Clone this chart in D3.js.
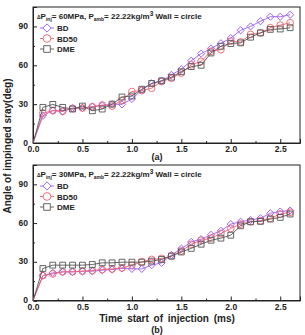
<!DOCTYPE html>
<html>
<head>
<meta charset="utf-8">
<script src="https://cdn.jsdelivr.net/npm/d3@7"></script>
<style>
body { margin: 0; background: #fff; }
text { font-family: "Liberation Sans", Arial, sans-serif; font-weight: bold; }
</style>
</head>
<body>
<div id="chart"></div>
<script>
// data
var times = [0, 0.1, 0.2, 0.3, 0.4, 0.5, 0.6, 0.7, 0.8, 0.9, 1.0, 1.1, 1.2, 1.3,
    1.4, 1.5, 1.6, 1.7, 1.8, 1.9, 2.0, 2.1, 2.2, 2.3, 2.4, 2.5, 2.6];

var bdA   = [0, 21, 25, 24.5, 27, 27, 28, 29, 30, 29.8, 34, 41, 46, 48, 52.6, 57,
    63.5, 69, 73, 77, 81, 87, 90, 94, 97.5, 97.5, 99];
var bd50A = [0, 23, 25, 24.5, 26.7, 27, 28, 29.3, 28.5, 33, 39.7, 40.5, 42.3, 47.5,
    50, 54, 60.4, 63, 70.8, 72, 78.6, 78, 83.8, 85, 89, 91, 92.8];
var dmeA  = [0, 27.5, 29.8, 27.5, 26.2, 28.5, 24.9, 26.2, 30, 35.5, 36.3, 41.5, 46,
    48, 50.8, 55, 59, 60, 69.5, 74.7, 76.8, 77.3, 81.7, 85, 87.7, 88, 89];

var bdB   = [0, 19.3, 21.4, 22.2, 22.2, 22.7, 22.7, 23.5, 24, 24.8, 24.5, 24.5, 27.4,
    29.2, 35.2, 40.2, 45.4, 47.5, 50.9, 54, 59.2, 61, 62.4, 63.7, 67.6, 68.9, 69.7];
var bd50B = [0, 19.3, 20.6, 22.2, 22.2, 22.7, 23.2, 24, 24.5, 25.3, 27.4, 30, 31.8,
    32.6, 34.4, 38.4, 43.6, 46.7, 48.3, 51.9, 55.8, 59.2, 61, 61.8, 63.7, 67, 68.4];
var dmeB  = [0, 24.8, 27.4, 27.4, 27.4, 27.4, 27.9, 29.2, 29.2, 29.7, 29.7, 29.7, 30.5,
    31.8, 34.4, 37.6, 40.4, 43.6, 46.7, 48.3, 50.6, 57.9, 61, 61.3, 63.1, 64.4, 67];

var seriesNames = ["BD", "BD50", "DME"];
var xTicks = [0, 0.5, 1.0, 1.5, 2.0, 2.5];
var yTicks = [0, 30, 60, 90];

var colors = {"BD": "#9a5cf0", "BD50": "#f0606e", "DME": "#555555"};
var sizes = {"BD": 26, "BD50": 36, "DME": 34};
// diamond = square turned 45 degrees (d3's own diamond is too tall)
var turn = {"BD": 45, "BD50": 0, "DME": 0};
var shapes = {"BD": d3.symbolSquare, "BD50": d3.symbolCircle, "DME": d3.symbolSquare};

var width = 305, height = 335;
var svg = d3.select("#chart").append("svg")
    .attr("width", width)
    .attr("height", height);

var x = d3.scaleLinear().domain([0, 2.7]).range([33, 300]);

function marker(sel, name, cx, cy, scale){
    sel.attr("transform", "translate(" + cx + "," + cy + ") rotate(" + turn[name] + ")")
        .attr("d", d3.symbol().type(shapes[name]).size(sizes[name] * scale))
        .attr("stroke", colors[name])
        .attr("stroke-width", 0.9);
}

function drawPanel(top, bottom, data, pinj, label){
    var y = d3.scaleLinear().domain([0, 105]).range([bottom, top]);
    var g = svg.append("g");

    // frame
    g.append("rect")
        .attr("x", x.range()[0]).attr("y", top)
        .attr("width", x.range()[1] - x.range()[0])
        .attr("height", bottom - top)
        .attr("fill", "none").attr("stroke", "#222").attr("stroke-width", 1);

    // x axis, ticks pointing in
    var xAxis = d3.axisBottom(x).tickValues(xTicks).tickSize(-4)
        .tickFormat(d3.format(".1f")).tickPadding(3);
    g.append("g").attr("transform", "translate(0," + bottom + ")").call(xAxis);
    var xMinor = d3.axisBottom(x).tickValues([0.25, 0.75, 1.25, 1.75, 2.25])
        .tickSize(-2).tickFormat("");
    g.append("g").attr("transform", "translate(0," + bottom + ")").call(xMinor)
        .select(".domain").remove();

    var yAxis = d3.axisLeft(y).tickValues(yTicks).tickSize(-4).tickPadding(5);
    var gy = g.append("g").attr("transform", "translate(" + x.range()[0] + ",0)").call(yAxis);
    gy.selectAll(".tick text").attr("dy", "0.25em");
    var yMinor = d3.axisLeft(y).tickValues([15, 45, 75, 105]).tickSize(-2).tickFormat("");
    g.append("g").attr("transform", "translate(" + x.range()[0] + ",0)").call(yMinor)
        .select(".domain").remove();

    g.selectAll(".tick text").attr("font-size", 8.5).attr("fill", "#222")
        .style("font-weight", "bold");
    g.selectAll(".tick line").attr("stroke", "#222");
    g.selectAll(".domain").attr("stroke", "#222");

    // lines and markers
    seriesNames.forEach(function(name, i){
        var vals = data[i];
        var pts = times.map(function(t, j){ return [t, vals[j]]; });
        var line = d3.line()
            .x(function(d){ return x(d[0]); })
            .y(function(d){ return y(d[1]); });
        g.append("path").datum(pts)
            .attr("d", line)
            .attr("fill", "none")
            .attr("stroke", colors[name])
            .attr("stroke-width", 0.9);
        g.selectAll(".m" + i)
            .data(pts.slice(1)).enter().append("path")
            .attr("class", "m" + i)
            .attr("fill", "none")
            .each(function(d){ marker(d3.select(this), name, x(d[0]), y(d[1]), 1); });
    });

    // annotation
    var ann = g.append("text")
        .attr("x", 37).attr("y", top + 12)
        .attr("font-size", 8).attr("fill", "#222");
    ann.append("tspan").attr("font-size", 5).text("\u0394");
    ann.append("tspan").text("P");
    ann.append("tspan").attr("font-size", 5).attr("dy", 1.5).text("inj");
    ann.append("tspan").attr("dy", -1.5).text("= " + pinj + "MPa, P");
    ann.append("tspan").attr("font-size", 5).attr("dy", 1.5).text("amb");
    ann.append("tspan").attr("dy", -1.5).text("= 22.22kg/m");
    ann.append("tspan").attr("dy", -3).attr("font-size", 6.5).text("3");
    ann.append("tspan").attr("dy", 3).text(" Wall = circle");

    // legend
    seriesNames.forEach(function(name, i){
        var ly = top + 21 + i * 10.5;
        g.append("line")
            .attr("x1", 40).attr("x2", 54).attr("y1", ly).attr("y2", ly)
            .attr("stroke", colors[name]).attr("stroke-width", 0.9);
        g.append("path")
            .attr("fill", "#fff")
            .call(marker, name, 47, ly, 1.3);
        g.append("text")
            .attr("x", 57).attr("y", ly + 3)
            .attr("font-size", 8).attr("fill", "#222")
            .text(name);
    });

    svg.append("text")
        .attr("x", 157).attr("y", label == "(a)" ? bottom + 17 : bottom + 32)
        .attr("text-anchor", "middle")
        .attr("font-size", 9).attr("fill", "#222")
        .text(label);
}

drawPanel(7, 143, [bdA, bd50A, dmeA], 60, "(a)");
drawPanel(165, 300.5, [bdB, bd50B, dmeB], 30, "(b)");

// axis titles
svg.append("text")
    .attr("x", 167).attr("y", 322)
    .attr("text-anchor", "middle")
    .attr("font-size", 10).attr("fill", "#222")
    .attr("word-spacing", 2)
    .text("Time start of injection (ms)");

svg.append("text")
    .attr("transform", "translate(11,146) rotate(-90)")
    .attr("text-anchor", "middle")
    .attr("font-size", 10).attr("fill", "#222")
    .text("Angle of impinged sray(deg)");
</script>
</body>
</html>
